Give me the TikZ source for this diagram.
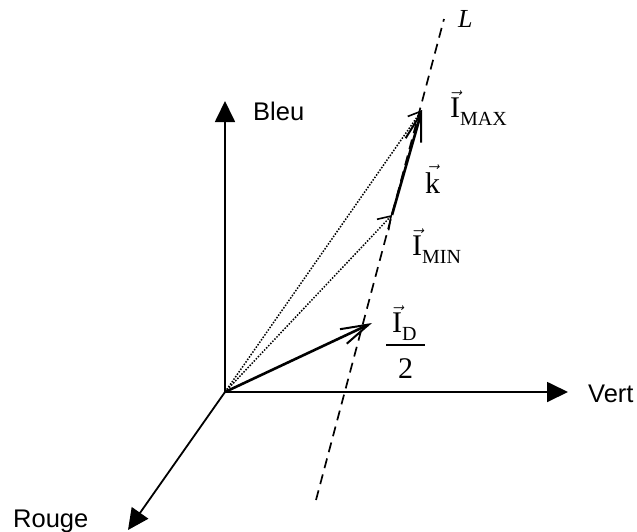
\documentclass[tikz,border=0pt]{standalone}
\usepackage{amsmath}
\usepackage{fontspec}
\setmainfont{Liberation Serif}
\newfontfamily\axisfont{Liberation Sans}
\usetikzlibrary{arrows.meta,positioning,calc}
\newcommand{\vecsub}[2]{$\vec{\mathrm{#1}}$\raisebox{-8pt}{\fontsize{20}{22}\selectfont #2}}
\tikzset{
  axis/.style={-{Triangle[length=21pt,width=20pt]},line width=1.8pt,draw=black},
  vector/.style={-{Straight Barb[length=28pt,width=16pt,line width=2pt]},line width=2.6pt,draw=black},
  thinvec/.style={-{Straight Barb[length=12pt,width=16pt,line width=1.6pt]},line width=1.5pt,dash pattern=on 1.5pt off 1.5pt,draw=black},
  axislabel/.style={font=\axisfont\fontsize{25.5}{28}\selectfont,inner sep=0pt,anchor=base west},
  veclabel/.style={font=\fontsize{30}{33}\selectfont,inner sep=0pt,anchor=base west},
}
\begin{document}
\begin{tikzpicture}[x=1pt,y=-1pt]
\useasboundingbox (0,0) rectangle (637,531);
\coordinate (orig) at (225,392);
\coordinate (bleu) at (225,101);
\coordinate (vert) at (568,392);
\coordinate (rouge) at (128,530);
\coordinate (ltop) at (444,19);
\coordinate (lbot) at (316,500);
\coordinate (imax) at (422,110);
\coordinate (imin) at (392,215);
\coordinate (id) at (372,323);
\coordinate (fracl) at (386,345);
\coordinate (fracr) at (425,345);
% axes
\draw[axis] (orig) -- (bleu);
\draw[axis] (orig) -- (vert);
\draw[axis] (orig) -- (rouge);
\draw[line width=1.7pt,dash pattern=on 10pt off 6.5pt] (lbot) -- (ltop);
% vectors
\draw[thinvec] (orig) -- (imax);
\draw[thinvec] (orig) -- (imin);
\draw[vector] (orig) -- (id);
\draw[vector] (imin) -- (imax);
\draw[line width=1.4pt] (fracl) -- (fracr);
% labels
\node[axislabel] (lbleu) at (253,120) {Bleu};
\node[axislabel] (lvert) at (588,402) {Vert};
\node[axislabel] (lrouge) at (13,527) {Rouge};
\node[font=\fontsize{26}{28}\selectfont\itshape,inner sep=0pt,anchor=base west] (ll) at (458,27) {L};
\node[veclabel] (limax) at (450,117) {\vecsub{I}{MAX}};
\node[veclabel] (lk) at (425,193) {$\vec{\mathrm{k}}$};
\node[veclabel] (limin) at (412,255) {\vecsub{I}{MIN}};
\node[veclabel] (lid) at (392,332) {\vecsub{I}{D}};
\node[veclabel] (ltwo) at (398,378) {2};
\end{tikzpicture}
\end{document}
